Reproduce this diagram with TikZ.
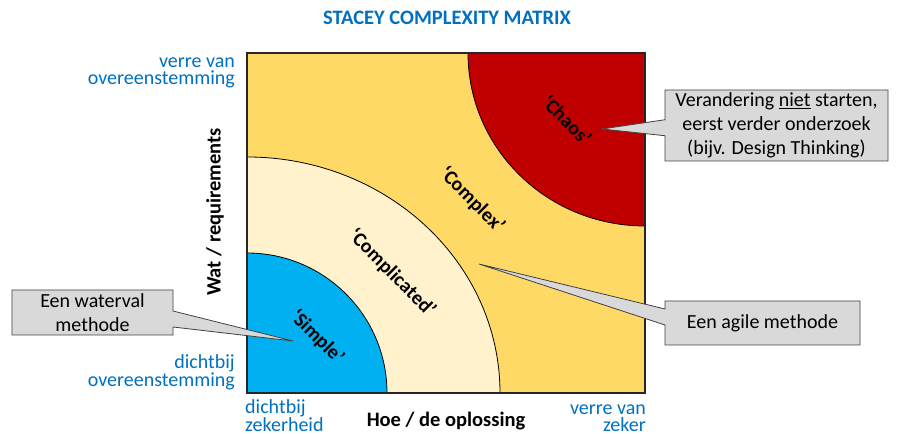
\documentclass[tikz,border=0pt]{standalone}
\usepackage{fontspec}
\setmainfont{Carlito}
\usetikzlibrary{shapes.callouts}
\definecolor{titleblue}{HTML}{0070C0}
\definecolor{complexyellow}{HTML}{FFD966}
\definecolor{complicatedcream}{HTML}{FFF2CC}
\definecolor{simpleblue}{HTML}{00B0F0}
\definecolor{chaosred}{HTML}{C00000}
\definecolor{notegray}{HTML}{D9D9D9}
\begin{document}
\begin{tikzpicture}[x=1bp,y=1bp,
  bluelabel/.style={text=titleblue,inner sep=0,font=\fontsize{20bp}{17bp}\selectfont},
  axislabel/.style={inner sep=0,font=\bfseries\fontsize{20.5bp}{24bp}\selectfont},
  zonelabel/.style={rotate=-45,inner sep=0,font=\bfseries\fontsize{20bp}{24bp}\selectfont},
  zoneline/.style={line width=.8bp},
  note/.style={rectangle callout,draw=black!75,fill=notegray,line width=.8bp,align=center,
    inner sep=0,callout pointer width=16bp,font=\fontsize{20bp}{24bp}\selectfont}]
\useasboundingbox (0,0) rectangle (898,434);
% frame and zones
\coordinate (SW) at (247,41);
\coordinate (NE) at (645,381);
\fill[complexyellow] (SW) rectangle (NE);
\filldraw[zoneline,fill=complicatedcream] (SW) -- (500,41) arc (0:90:253 and 236) -- cycle;
\filldraw[zoneline,fill=simpleblue] (SW) -- (387,41) arc (0:90:140) -- cycle;
\filldraw[zoneline,fill=chaosred] (NE) -- (468,381) arc (180:270:177 and 173) -- cycle;
\draw[line width=1.3bp,black!85] (SW) rectangle (NE);
% zone names
\node[zonelabel] (simple) at (317,97) {‘Simple’};
\node[zonelabel] (complicated) at (392,161) {‘Complicated’};
\node[zonelabel] (complex) at (472,234) {‘Complex’};
\node[zonelabel] (chaos) at (567,314) {‘Chaos’};
% title and axes
\node[text=titleblue,inner sep=0,font=\bfseries\fontsize{20.5bp}{24bp}\selectfont] (title) at (447,416) {STACEY COMPLEXITY MATRIX};
\node[axislabel,anchor=base] (hoe) at (446,7) {Hoe / de oplossing};
\node[axislabel,rotate=90] (wat) at (215,222) {Wat / requirements};
\node[bluelabel,align=right,anchor=base east] (yHigh) at (235,349) {verre van\\overeenstemming};
\node[bluelabel,align=right,anchor=base east] (yLow) at (235,47) {dichtbij\\overeenstemming};
\node[bluelabel,align=left,anchor=base west] (xLow) at (245,2) {dichtbij\\zekerheid};
\node[bluelabel,align=right,anchor=base east] (xHigh) at (646,2) {verre van\\zeker};
% callouts
\coordinate (chaosTip) at (602,305);
\coordinate (agileTip) at (479,170);
\coordinate (waterTip) at (293,93);
\node[note,minimum width=223bp,minimum height=71bp,callout absolute pointer={(chaosTip)}] (chaosNote) at (776.5,308.5) {Verandering \underline{niet} starten,\\eerst verder onderzoek\\(bijv. Design Thinking)};
\node[note,minimum width=195bp,minimum height=44bp,callout absolute pointer={(agileTip)}] (agileNote) at (762.5,111) {Een agile methode};
\node[note,minimum width=161bp,minimum height=45bp,callout absolute pointer={(waterTip)}] (waterNote) at (92.5,121.5) {Een waterval\\methode};
\end{tikzpicture}
\end{document}
